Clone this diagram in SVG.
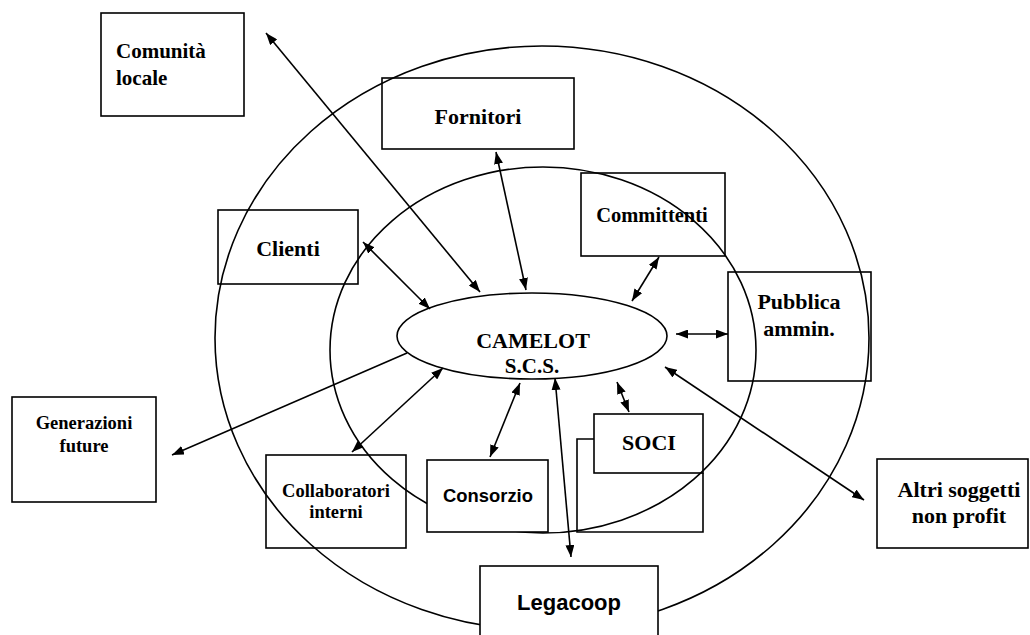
<svg xmlns="http://www.w3.org/2000/svg" width="1030" height="635" viewBox="0 0 1030 635">
<defs>
<marker id="ah" viewBox="0 0 12 9" refX="12" refY="4.5" markerWidth="12" markerHeight="9" markerUnits="userSpaceOnUse" orient="auto-start-reverse">
<path d="M0,0 L12,4.5 L0,9 z" fill="#000"/>
</marker>
<style>
.sh{fill:none;stroke:#000;stroke-width:1.6}
.box{fill:none;stroke:#000;stroke-width:1.6}
.wbox{fill:#fff;stroke:#000;stroke-width:1.6}
.t{font-family:"Liberation Serif","Times New Roman",serif;font-weight:bold;fill:#000;text-anchor:middle}
.s{font-family:"Liberation Sans",Arial,sans-serif;font-weight:bold;fill:#000;text-anchor:middle}
.c line{stroke:#000;stroke-width:1.6;marker-end:url(#ah)}
.c .d{marker-start:url(#ah)}
</style>
</defs>
<rect width="1030" height="635" fill="#fff"/>
<g id="rings">
<ellipse class="sh" cx="542" cy="338" rx="327" ry="292"/>
<ellipse class="sh" cx="543" cy="350" rx="213" ry="183"/>
</g>
<g id="camelot">
<ellipse class="sh" cx="532" cy="336" rx="135" ry="43"/>
<text class="t" x="533" y="348" font-size="22">CAMELOT</text>
<text class="t" x="532" y="373" font-size="21">S.C.S.</text>
</g>
<g id="comunita">
<rect class="box" x="101" y="13" width="143" height="103"/>
<text class="t" x="116" y="58" font-size="21" style="text-anchor:start">Comunità</text>
<text class="t" x="116" y="85" font-size="21" style="text-anchor:start">locale</text>
</g>
<g id="fornitori">
<rect class="box" x="382" y="78" width="192" height="71"/>
<text class="t" x="478" y="124" font-size="22">Fornitori</text>
</g>
<g id="committenti">
<rect class="box" x="581" y="173" width="144" height="83"/>
<text class="t" x="652" y="222" font-size="20.5">Committenti</text>
</g>
<g id="pubblica">
<rect class="box" x="728" y="272" width="143" height="109"/>
<text class="t" x="799" y="309" font-size="22">Pubblica</text>
<text class="t" x="799" y="336" font-size="22">ammin.</text>
</g>
<g id="clienti">
<rect class="box" x="218" y="210" width="140" height="74"/>
<text class="t" x="288" y="256" font-size="22">Clienti</text>
</g>
<g id="generazioni">
<rect class="box" x="12" y="397" width="144" height="105"/>
<text class="t" x="84" y="429" font-size="18.5">Generazioni</text>
<text class="t" x="84" y="452" font-size="18.5">future</text>
</g>
<g id="collaboratori">
<rect class="box" x="266" y="455" width="140" height="93"/>
<text class="t" x="336" y="497" font-size="18.5">Collaboratori</text>
<text class="t" x="336" y="518" font-size="18.5">interni</text>
</g>
<g id="consorzio">
<rect class="wbox" x="427" y="460" width="121" height="72"/>
<text class="s" x="488" y="502" font-size="18.4">Consorzio</text>
</g>
<g id="soci">
<path class="box" d="M594,439 H577 V532 H703 V473"/>
<rect class="box" x="594" y="414" width="109" height="59"/>
<text class="t" x="649" y="450" font-size="22">SOCI</text>
</g>
<g id="legacoop">
<rect class="wbox" x="480" y="566" width="178" height="75"/>
<text class="s" x="569" y="610" font-size="22">Legacoop</text>
</g>
<g id="altri">
<rect class="box" x="877" y="459" width="151" height="89"/>
<text class="t" x="959" y="497" font-size="22">Altri soggetti</text>
<text class="t" x="959" y="523" font-size="22">non profit</text>
</g>
<g id="connectors" class="c">
<line class="d" x1="480" y1="292" x2="266" y2="33"/>
<line class="d" x1="526" y1="290" x2="496" y2="152"/>
<line class="d" x1="430" y1="309" x2="363" y2="242"/>
<line class="d" x1="632" y1="301" x2="659" y2="257"/>
<line class="d" x1="676" y1="334" x2="728" y2="334"/>
<line class="d" x1="665" y1="367" x2="864" y2="500"/>
<line x1="407" y1="353" x2="172" y2="455"/>
<line class="d" x1="443" y1="368" x2="352" y2="452"/>
<line class="d" x1="520" y1="383" x2="490" y2="457"/>
<line class="d" x1="555" y1="378" x2="571" y2="557"/>
<line class="d" x1="617" y1="382" x2="629" y2="412"/>
</g>
</svg>
